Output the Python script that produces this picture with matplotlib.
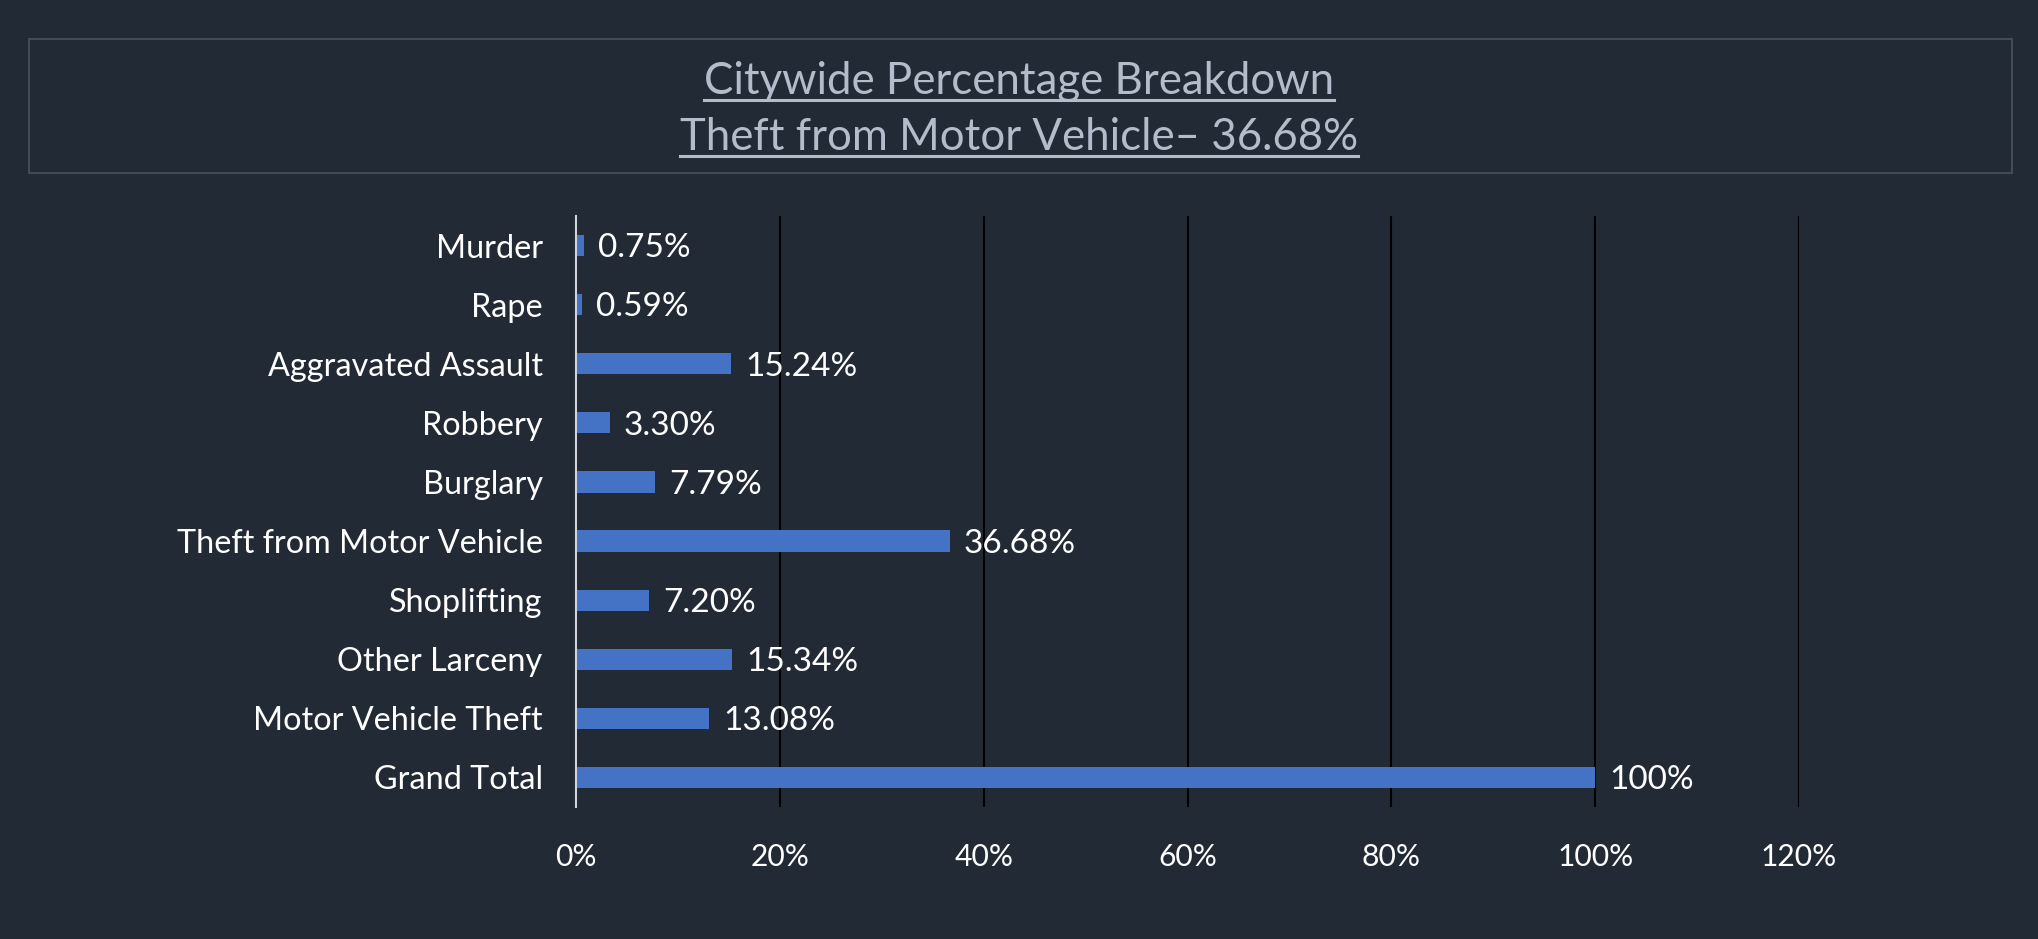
import matplotlib
matplotlib.use('Agg')
import matplotlib.pyplot as plt
from matplotlib.patches import Rectangle
from matplotlib.lines import Line2D
from matplotlib.ticker import FuncFormatter

plt.rcParams['font.family'] = ['Lato', 'DejaVu Sans']

# 数据
categories = ['Murder', 'Rape', 'Aggravated Assault', 'Robbery', 'Burglary',
              'Theft from Motor Vehicle', 'Shoplifting', 'Other Larceny',
              'Motor Vehicle Theft', 'Grand Total']
percentages = [0.75, 0.59, 15.24, 3.30, 7.79, 36.68, 7.20, 15.34, 13.08, 100]
value_labels = ['0.75%', '0.59%', '15.24%', '3.30%', '7.79%', '36.68%',
                '7.20%', '15.34%', '13.08%', '100%']
title_lines = ['Citywide Percentage Breakdown', 'Theft from Motor Vehicle\u2013 36.68%']

bg = '#222a35'
bar_color = '#4472c4'
title_color = '#b3bccb'

W, H = 2038, 939
fig = plt.figure(figsize=(W / 100, H / 100), dpi=100, facecolor=bg)

# 标题框
fig.patches.append(Rectangle((29 / W, 1 - 173 / H), (2012 - 29) / W, (173 - 39) / H,
                             transform=fig.transFigure, facecolor='none',
                             edgecolor='#3f4c5a', linewidth=1.5))

title_texts = []
for line, base_y in zip(title_lines, [94, 150]):
    t = fig.text(0.5, 1 - base_y / H, line, ha='center', va='baseline',
                 fontsize=31.5, color=title_color)
    title_texts.append((t, base_y))

ax = fig.add_axes([576 / W, 1 - 807 / H, (1799 - 576) / W, (807 - 216) / H])
ax.set_facecolor(bg)

y = list(range(len(categories)))
ax.barh(y, [p / 100 for p in percentages], height=0.36, color=bar_color, zorder=3)

for yi, p, lab in zip(y, percentages, value_labels):
    ax.annotate(lab, (p / 100, yi), xytext=(10, -2), textcoords='offset points',
                va='center', ha='left', color='white', fontsize=24)

ax.set_xlim(0, 1.2)
ax.set_ylim(len(categories) - 0.5, -0.5)
ax.set_yticks(y)
ax.set_yticklabels(categories)
ax.set_xticks([0, 0.2, 0.4, 0.6, 0.8, 1.0, 1.2])
ax.xaxis.set_major_formatter(FuncFormatter(lambda v, pos: f'{v * 100:.0f}%'))
ax.tick_params(axis='y', length=0, pad=24, labelsize=23.3, labelcolor='white')
ax.tick_params(axis='x', length=0, pad=26, labelsize=21.6, labelcolor='white')
ax.grid(axis='x', color='black', linewidth=1.5, zorder=0)
for s in ['top', 'right', 'bottom']:
    ax.spines[s].set_visible(False)
ax.spines['left'].set_color('#d0d4da')
ax.spines['left'].set_linewidth(1.5)
ax.spines['left'].set_zorder(4)

# 标题下划线
fig.canvas.draw()
renderer = fig.canvas.get_renderer()
for t, base_y in title_texts:
    bb = t.get_window_extent(renderer)
    yy = 1 - (base_y + 6) / H
    fig.lines.append(Line2D([bb.x0 / W, bb.x1 / W], [yy, yy], transform=fig.transFigure,
                            color=title_color, linewidth=2.2))

fig.savefig('out.png', dpi=100, facecolor=bg)
